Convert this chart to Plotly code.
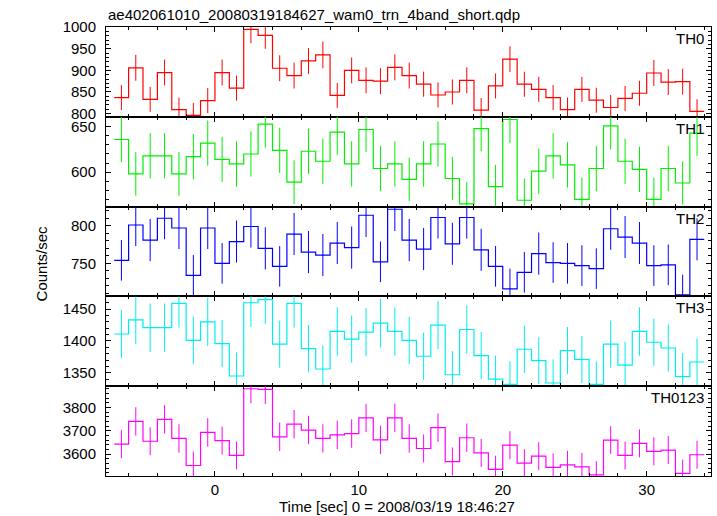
import plotly.graph_objects as go
from plotly.subplots import make_subplots

# ---------------- data ----------------
time_centers = [-6.5, -5.5, -4.5, -3.5, -2.5, -1.5, -0.5, 0.5, 1.5, 2.5,
                3.5, 4.5, 5.5, 6.5, 7.5, 8.5, 9.5, 10.5, 11.5, 12.5,
                13.5, 14.5, 15.5, 16.5, 17.5, 18.5, 19.5, 20.5, 21.5, 22.5,
                23.5, 24.5, 25.5, 26.5, 27.5, 28.5, 29.5, 30.5, 31.5, 32.5, 33.5]
bin_width = 1.0

th0 = [837, 906, 833, 895, 809, 796, 830, 895, 859, 995, 981, 905, 888, 922, 936,
       842, 900, 877, 875, 907, 888, 868, 843, 850, 877, 808, 864, 926, 868, 856,
       837, 809, 856, 831, 814, 835, 847, 894, 873, 874, 805]
th0_err = [29, 30, 29, 30, 28, 28, 29, 30, 29, 32, 31, 30, 30, 30, 31, 29, 30, 30, 30, 30,
           30, 29, 29, 29, 30, 28, 29, 30, 29, 29, 29, 28, 29, 29, 29, 29, 29, 30, 30, 30, 28]

th1 = [636, 598, 618, 618, 598, 617, 632, 614, 609, 620, 653, 624, 589, 623, 612,
       644, 609, 647, 604, 609, 592, 609, 631, 593, 565, 648, 584, 658, 569, 601,
       618, 608, 570, 604, 651, 612, 603, 570, 604, 588, 643]
th1_err = [25, 24, 25, 25, 24, 25, 25, 25, 25, 25, 26, 25, 24, 25, 25, 25, 25, 25, 25, 25,
           24, 25, 25, 24, 24, 25, 24, 26, 24, 25, 25, 25, 24, 25, 26, 25, 25, 24, 25, 24, 25]

th2 = [754, 801, 781, 810, 797, 734, 797, 750, 779, 799, 770, 746, 789, 765, 761,
       777, 771, 814, 752, 822, 781, 769, 811, 776, 811, 768, 746, 716, 738, 763,
       751, 750, 747, 743, 796, 785, 777, 747, 748, 708, 782]
th2_err = [27, 28, 28, 28, 28, 27, 28, 27, 28, 28, 28, 27, 28, 28, 28, 28, 28, 29, 27, 29,
           28, 28, 28, 28, 28, 28, 27, 27, 27, 28, 27, 27, 27, 27, 28, 28, 28, 27, 27, 27, 28]

th3 = [1411, 1433, 1421, 1421, 1459, 1401, 1430, 1396, 1345, 1460, 1465, 1395, 1459,
       1388, 1356, 1415, 1403, 1414, 1428, 1415, 1401, 1376, 1425, 1347, 1418, 1377,
       1340, 1332, 1387, 1369, 1334, 1385, 1371, 1332, 1395, 1362, 1415, 1398, 1389,
       1344, 1367]
th3_err = [38, 38, 38, 38, 38, 37, 38, 37, 37, 38, 38, 37, 38, 37, 37, 38, 37, 38, 38, 38,
           37, 37, 38, 37, 38, 37, 37, 36, 37, 37, 37, 37, 37, 36, 37, 37, 38, 37, 37, 37, 37]

th0123 = [3643, 3740, 3655, 3749, 3667, 3551, 3693, 3658, 3594, 3880, 3877, 3674, 3728,
          3703, 3667, 3682, 3688, 3755, 3661, 3755, 3667, 3624, 3713, 3568, 3670, 3605,
          3534, 3638, 3561, 3591, 3543, 3554, 3545, 3511, 3660, 3594, 3646, 3612, 3617,
          3517, 3597]
th0123_err = [60, 61, 60, 61, 61, 60, 61, 60, 60, 62, 62, 61, 61, 61, 61, 61, 61, 61, 61, 61,
              61, 60, 61, 60, 61, 60, 59, 60, 60, 60, 60, 60, 60, 59, 60, 60, 60, 60, 60, 59, 60]

band_names = ["TH0", "TH1", "TH2", "TH3", "TH0123"]
band_values = [th0, th1, th2, th3, th0123]
band_errors = [th0_err, th1_err, th2_err, th3_err, th0123_err]
band_colors = ["#ff0000", "#00ee00", "#0000ff", "#00eeee", "#ff00ff"]
y_ranges = [[792.5, 1000.5], [562, 661], [706, 825.5], [1329, 1470], [3506, 3891]]
y_major = [50, 50, 50, 50, 100]
y_minor = [10, 10, 10, 10, 20]
x_range = [-7.57, 34.47]

title_text = "ae402061010_20080319184627_wam0_trn_4band_short.qdp"
x_title = "Time [sec] 0 = 2008/03/19 18:46:27"
y_title = "Counts/sec"

# ---------------- figure ----------------
FONT = "Liberation Sans, Arial, Helvetica, sans-serif"
W, H = 717, 516
ML, MR, MT, MB = 106, 6, 27, 40

fig = make_subplots(rows=5, cols=1, shared_xaxes=True, vertical_spacing=0)

edges = [c - bin_width / 2 for c in time_centers] + [time_centers[-1] + bin_width / 2]

for i, (name, vals, errs, col) in enumerate(zip(band_names, band_values, band_errors, band_colors)):
    r = i + 1
    fig.add_trace(go.Scatter(
        x=edges, y=vals + [vals[-1]], mode="lines", line_shape="hv",
        line=dict(color=col, width=1.2), showlegend=False, hoverinfo="skip"),
        row=r, col=1)
    fig.add_trace(go.Scatter(
        x=time_centers, y=vals, mode="markers",
        marker=dict(size=1, color=col),
        error_y=dict(type="data", array=errs, visible=True, color=col,
                     thickness=1, width=0),
        showlegend=False, name=name),
        row=r, col=1)
    fig.update_xaxes(range=x_range, showline=True, linecolor="black", linewidth=1,
                     mirror="ticks", ticks="inside", ticklen=5, tickcolor="black",
                     tick0=0, dtick=10, showgrid=False, zeroline=False,
                     minor=dict(dtick=2, ticklen=3, ticks="inside", tickcolor="black", showgrid=False),
                     tickfont=dict(family=FONT, size=15, color="black"),
                     row=r, col=1)
    fig.update_yaxes(range=y_ranges[i], showline=True, linecolor="black", linewidth=1,
                     mirror="ticks", ticks="inside", ticklen=5, tickcolor="black",
                     dtick=y_major[i], showgrid=False, zeroline=False,
                     minor=dict(dtick=y_minor[i], ticklen=3, ticks="inside", tickcolor="black", showgrid=False),
                     tickfont=dict(family=FONT, size=15, color="black"),
                     ticklabelstandoff=6,
                     row=r, col=1)

annotations = []
for i, name in enumerate(band_names):
    yax = fig.layout["yaxis" if i == 0 else f"yaxis{i+1}"]
    top = yax.domain[1]
    annotations.append(dict(text=name, xref="paper", yref="paper", x=1, y=top,
                            xanchor="right", yanchor="top", xshift=-5, yshift=-1,
                            showarrow=False, font=dict(family=FONT, size=15, color="black")))

annotations.append(dict(text=title_text, xref="paper", yref="paper", x=0, y=1,
                        xanchor="left", yanchor="bottom", yshift=2, showarrow=False,
                        font=dict(family=FONT, size=15, color="black")))
annotations.append(dict(text=y_title, xref="paper", yref="paper", x=-0.107, y=0.474,
                        xanchor="center", yanchor="middle", textangle=-90, showarrow=False,
                        font=dict(family=FONT, size=15, color="black")))
annotations.append(dict(text=x_title, xref="paper", yref="paper", x=0.481, y=-0.069,
                        xanchor="center", yanchor="middle", showarrow=False,
                        font=dict(family=FONT, size=15, color="black")))

fig.update_layout(width=W, height=H, margin=dict(l=ML, r=MR, t=MT, b=MB),
                  paper_bgcolor="white", plot_bgcolor="white",
                  annotations=annotations, showlegend=False, hovermode=False,
                  font=dict(family=FONT, size=15, color="black"))

fig.write_html("out.html",
               config={"displayModeBar": False, "staticPlot": True},
               post_script="document.body.style.margin='0px';document.body.style.overflow='hidden';")
